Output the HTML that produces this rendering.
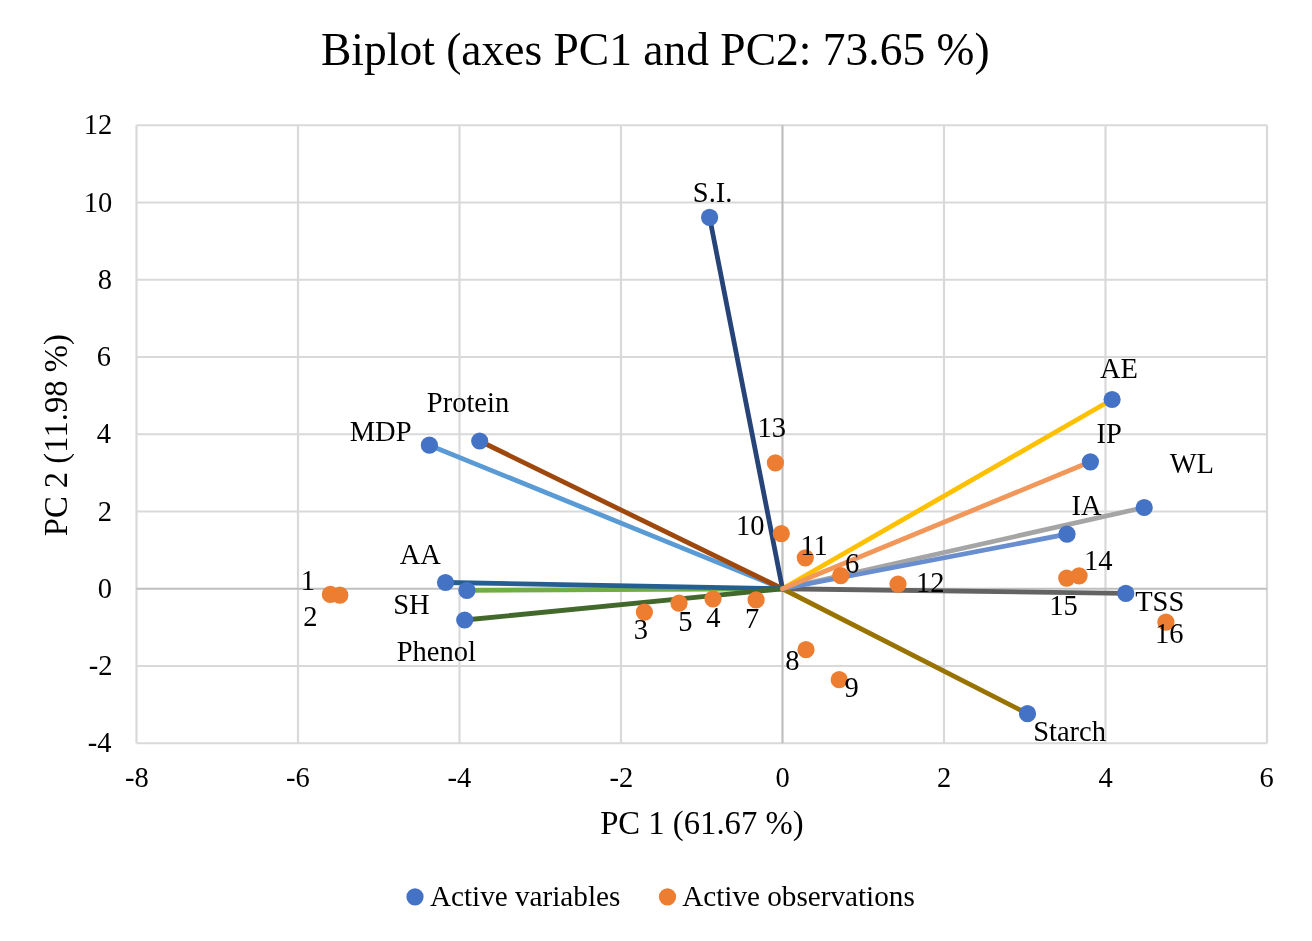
<!DOCTYPE html><html><head><meta charset="utf-8"><style>html,body{margin:0;padding:0;background:#fff;}svg{display:block;will-change:transform;}text{font-family:"Liberation Serif",serif;fill:#000;}</style></head><body>
<svg width="1312" height="941" viewBox="0 0 1312 941">
<rect width="1312" height="941" fill="#fff"/>
<g stroke="#D9D9D9" stroke-width="2.2"><line x1="136.50" y1="125.25" x2="136.50" y2="743.25"/><line x1="298.00" y1="125.25" x2="298.00" y2="743.25"/><line x1="459.50" y1="125.25" x2="459.50" y2="743.25"/><line x1="621.00" y1="125.25" x2="621.00" y2="743.25"/><line x1="944.00" y1="125.25" x2="944.00" y2="743.25"/><line x1="1105.50" y1="125.25" x2="1105.50" y2="743.25"/><line x1="1267.00" y1="125.25" x2="1267.00" y2="743.25"/><line x1="136.50" y1="743.25" x2="1267.00" y2="743.25"/><line x1="136.50" y1="666.00" x2="1267.00" y2="666.00"/><line x1="136.50" y1="511.50" x2="1267.00" y2="511.50"/><line x1="136.50" y1="434.25" x2="1267.00" y2="434.25"/><line x1="136.50" y1="357.00" x2="1267.00" y2="357.00"/><line x1="136.50" y1="279.75" x2="1267.00" y2="279.75"/><line x1="136.50" y1="202.50" x2="1267.00" y2="202.50"/><line x1="136.50" y1="125.25" x2="1267.00" y2="125.25"/></g>
<g stroke="#BFBFBF" stroke-width="2.2"><line x1="782.50" y1="125.25" x2="782.50" y2="743.25"/><line x1="136.50" y1="588.75" x2="1267.00" y2="588.75"/></g>
<line x1="782.50" y1="588.75" x2="1144.20" y2="507.50" stroke="#A5A5A5" stroke-width="4.8" stroke-linecap="round"/>
<line x1="782.50" y1="588.75" x2="1112.10" y2="399.50" stroke="#FFC000" stroke-width="4.8" stroke-linecap="round"/>
<line x1="782.50" y1="588.75" x2="429.40" y2="445.20" stroke="#5B9BD5" stroke-width="4.8" stroke-linecap="round"/>
<line x1="782.50" y1="588.75" x2="466.90" y2="590.30" stroke="#70AD47" stroke-width="4.8" stroke-linecap="round"/>
<line x1="782.50" y1="588.75" x2="709.60" y2="217.40" stroke="#264478" stroke-width="4.8" stroke-linecap="round"/>
<line x1="782.50" y1="588.75" x2="479.70" y2="441.00" stroke="#9E480E" stroke-width="4.8" stroke-linecap="round"/>
<line x1="782.50" y1="588.75" x2="1125.80" y2="593.30" stroke="#636363" stroke-width="4.8" stroke-linecap="round"/>
<line x1="782.50" y1="588.75" x2="1027.50" y2="713.70" stroke="#997300" stroke-width="4.8" stroke-linecap="round"/>
<line x1="782.50" y1="588.75" x2="445.50" y2="582.50" stroke="#255E91" stroke-width="4.8" stroke-linecap="round"/>
<line x1="782.50" y1="588.75" x2="464.70" y2="620.00" stroke="#43682B" stroke-width="4.8" stroke-linecap="round"/>
<line x1="782.50" y1="588.75" x2="1067.00" y2="534.20" stroke="#698ED0" stroke-width="4.8" stroke-linecap="round"/>
<line x1="782.50" y1="588.75" x2="1090.40" y2="461.80" stroke="#F1975A" stroke-width="4.8" stroke-linecap="round"/>
<circle cx="1144.20" cy="507.50" r="8.6" fill="#4472C4"/>
<circle cx="1112.10" cy="399.50" r="8.6" fill="#4472C4"/>
<circle cx="429.40" cy="445.20" r="8.6" fill="#4472C4"/>
<circle cx="466.90" cy="590.30" r="8.6" fill="#4472C4"/>
<circle cx="709.60" cy="217.40" r="8.6" fill="#4472C4"/>
<circle cx="479.70" cy="441.00" r="8.6" fill="#4472C4"/>
<circle cx="1125.80" cy="593.30" r="8.6" fill="#4472C4"/>
<circle cx="1027.50" cy="713.70" r="8.6" fill="#4472C4"/>
<circle cx="445.50" cy="582.50" r="8.6" fill="#4472C4"/>
<circle cx="464.70" cy="620.00" r="8.6" fill="#4472C4"/>
<circle cx="1067.00" cy="534.20" r="8.6" fill="#4472C4"/>
<circle cx="1090.40" cy="461.80" r="8.6" fill="#4472C4"/>
<circle cx="330.40" cy="594.40" r="8.6" fill="#ED7D31"/>
<circle cx="339.80" cy="595.20" r="8.6" fill="#ED7D31"/>
<circle cx="644.40" cy="612.10" r="8.6" fill="#ED7D31"/>
<circle cx="713.00" cy="598.80" r="8.6" fill="#ED7D31"/>
<circle cx="679.00" cy="603.20" r="8.6" fill="#ED7D31"/>
<circle cx="840.70" cy="575.60" r="8.6" fill="#ED7D31"/>
<circle cx="756.10" cy="599.90" r="8.6" fill="#ED7D31"/>
<circle cx="806.00" cy="649.70" r="8.6" fill="#ED7D31"/>
<circle cx="839.20" cy="679.70" r="8.6" fill="#ED7D31"/>
<circle cx="781.30" cy="533.60" r="8.6" fill="#ED7D31"/>
<circle cx="805.30" cy="557.80" r="8.6" fill="#ED7D31"/>
<circle cx="898.00" cy="584.10" r="8.6" fill="#ED7D31"/>
<circle cx="775.40" cy="462.90" r="8.6" fill="#ED7D31"/>
<circle cx="1079.10" cy="575.80" r="8.6" fill="#ED7D31"/>
<circle cx="1066.70" cy="578.10" r="8.6" fill="#ED7D31"/>
<circle cx="1165.90" cy="622.20" r="8.6" fill="#ED7D31"/>
<text x="1169.65" y="473.20" font-size="28.5">WL</text>
<text x="1099.90" y="377.90" font-size="28.5">AE</text>
<text x="349.75" y="440.55" font-size="28.5">MDP</text>
<text x="393.25" y="614.25" font-size="28.5">SH</text>
<text x="692.85" y="201.90" font-size="28.5">S.I.</text>
<text x="426.85" y="411.85" font-size="28.5">Protein</text>
<text x="1135.20" y="610.60" font-size="28.5">TSS</text>
<text x="1033.20" y="741.45" font-size="28.5">Starch</text>
<text x="399.65" y="564.45" font-size="28.5">AA</text>
<text x="396.70" y="661.00" font-size="28.5">Phenol</text>
<text x="1071.45" y="515.00" font-size="28.5">IA</text>
<text x="1096.50" y="443.30" font-size="28.5">IP</text>
<text x="300.80" y="589.80" font-size="28.5">1</text>
<text x="303.20" y="626.35" font-size="28.5">2</text>
<text x="633.85" y="639.35" font-size="28.5">3</text>
<text x="706.15" y="626.60" font-size="28.5">4</text>
<text x="678.15" y="630.60" font-size="28.5">5</text>
<text x="845.05" y="573.30" font-size="28.5">6</text>
<text x="745.10" y="627.85" font-size="28.5">7</text>
<text x="785.15" y="670.30" font-size="28.5">8</text>
<text x="844.55" y="697.25" font-size="28.5">9</text>
<text x="735.90" y="534.60" font-size="28.5">10</text>
<text x="800.30" y="555.40" font-size="28.5">11</text>
<text x="915.90" y="592.35" font-size="28.5">12</text>
<text x="757.60" y="437.10" font-size="28.5">13</text>
<text x="1083.90" y="569.60" font-size="28.5">14</text>
<text x="1049.35" y="614.60" font-size="28.5">15</text>
<text x="1155.00" y="642.60" font-size="28.5">16</text>
<text x="87.80" y="752.45" font-size="28.5">-4</text>
<text x="88.80" y="675.20" font-size="28.5">-2</text>
<text x="97.80" y="597.95" font-size="28.5">0</text>
<text x="97.80" y="520.70" font-size="28.5">2</text>
<text x="96.80" y="443.45" font-size="28.5">4</text>
<text x="96.80" y="366.20" font-size="28.5">6</text>
<text x="97.80" y="288.95" font-size="28.5">8</text>
<text x="83.80" y="211.70" font-size="28.5">10</text>
<text x="83.80" y="134.45" font-size="28.5">12</text>
<text x="125.00" y="787.40" font-size="28.5">-8</text>
<text x="286.00" y="787.40" font-size="28.5">-6</text>
<text x="447.50" y="787.40" font-size="28.5">-4</text>
<text x="609.50" y="787.40" font-size="28.5">-2</text>
<text x="775.50" y="787.40" font-size="28.5">0</text>
<text x="937.00" y="787.40" font-size="28.5">2</text>
<text x="1098.50" y="787.40" font-size="28.5">4</text>
<text x="1259.50" y="787.40" font-size="28.5">6</text>
<text x="600.20" y="833.70" font-size="32.7">PC 1 (61.67 %)</text>
<text transform="translate(66.8,435.30) rotate(-90)" x="-101.00" y="0" font-size="32.7">PC 2 (11.98 %)</text>
<text x="321.00" y="65.00" font-size="45.5">Biplot (axes PC1 and PC2: 73.65 %)</text>
<circle cx="415" cy="896.9" r="8.6" fill="#4472C4"/>
<circle cx="667.5" cy="896.9" r="8.6" fill="#ED7D31"/>
<text x="429.90" y="906.00" font-size="29.2">Active variables</text>
<text x="682.15" y="906.00" font-size="29.2">Active observations</text>
</svg></body></html>
